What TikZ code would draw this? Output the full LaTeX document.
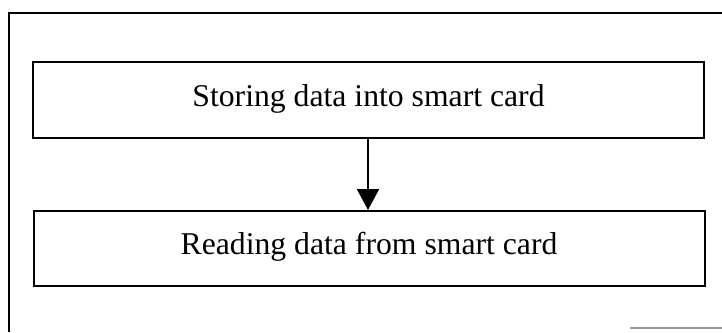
\documentclass[tikz,border=0pt]{standalone}
\usepackage{fontspec}
\setmainfont{Liberation Serif}
\usetikzlibrary{arrows.meta}
\begin{document}
\begin{tikzpicture}[x=1pt,y=-1pt,
  stagebox/.style={draw=black, line width=2pt, minimum width=671pt,
    text height=22pt, text depth=10pt, inner sep=0pt,
    font=\fontsize{31.7}{38}\selectfont},
  flow/.style={draw=black, line width=2pt,
    -{Triangle[width=22pt,length=21pt]}}]
  \useasboundingbox (0,0) rectangle (722,332);
  % outer frame (only its top and left sides lie inside the page)
  \coordinate (frameTL) at (9,13);
  \coordinate (frameTR) at (722,13);
  \coordinate (frameBL) at (9,332);
  \draw[line width=2pt] (frameBL) -- (frameTL) -- (frameTR);
  \coordinate (frameB1) at (630,328);
  \coordinate (frameB2) at (722,328);
  \draw[line width=1.5pt, black!40] (frameB1) -- (frameB2);
  % the two stages
  \node[stagebox, minimum height=76pt] (store) at (368.5,100) {Storing data into smart card};
  \node[stagebox, minimum height=75pt] (read) at (369,248.5) {Reading data from smart card};
  \draw[flow] (store.south -| 368,0) -- (read.north -| 368,0);
\end{tikzpicture}
\end{document}
